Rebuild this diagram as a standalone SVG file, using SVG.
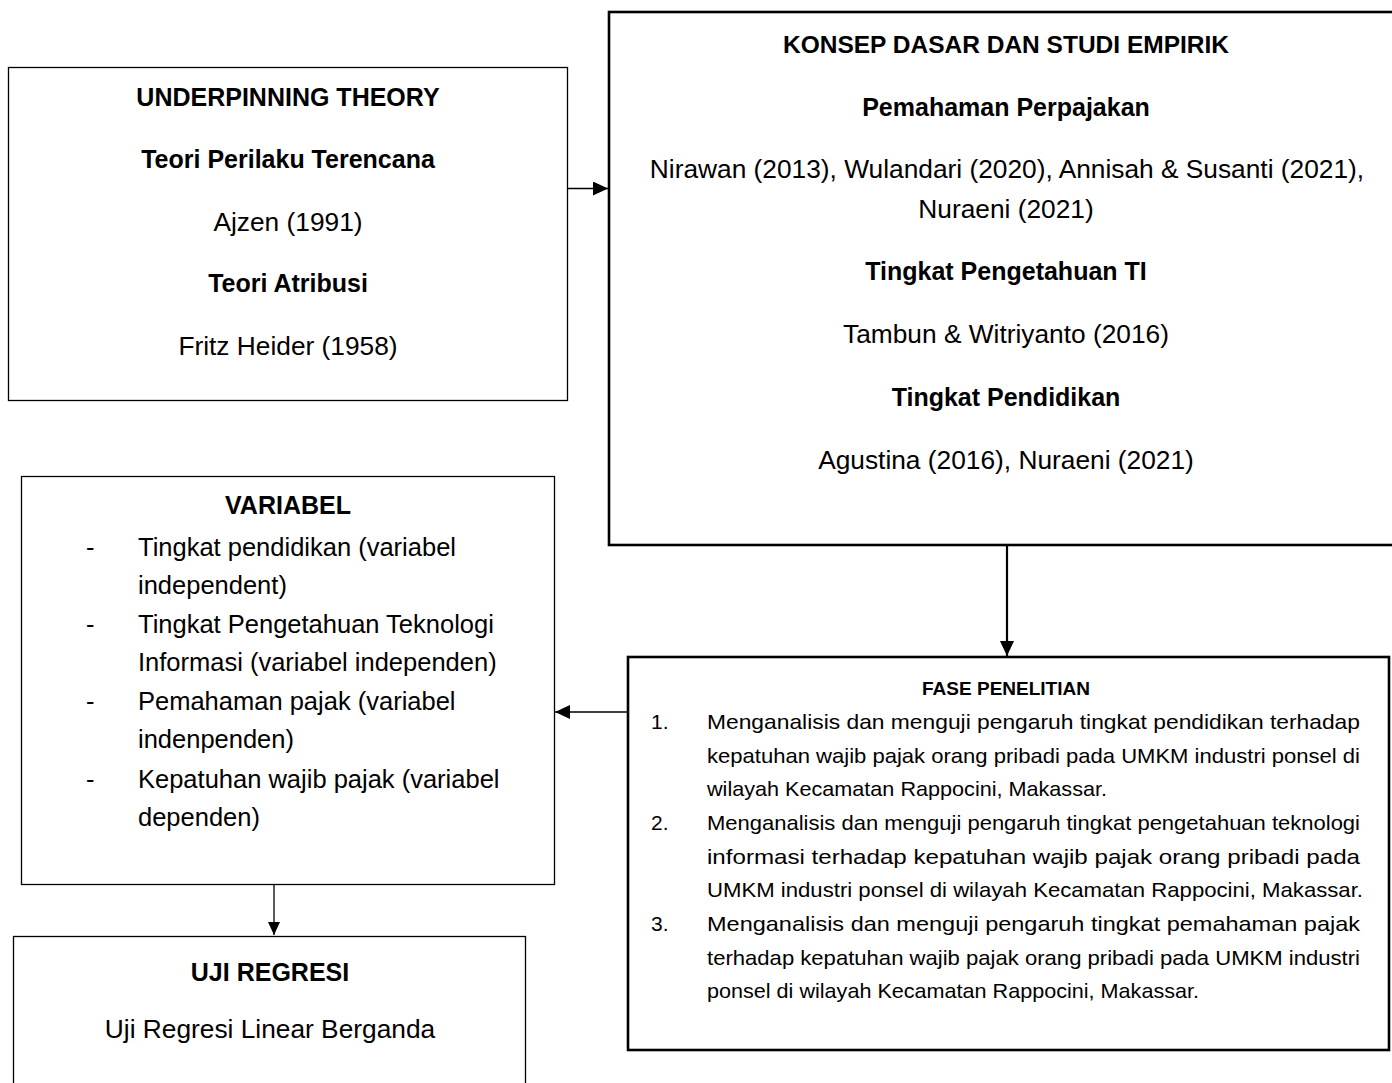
<svg xmlns="http://www.w3.org/2000/svg" width="1392" height="1083" viewBox="0 0 1392 1083">
<style>
  .box{fill:#fff;stroke:#000}
  .thin{stroke-width:1.3}
  .thick{stroke-width:2.6}
  text{font-family:"Liberation Sans",Arial,sans-serif;fill:#000}
  .b{font-weight:bold;font-size:25px}
  .r{font-size:26.3px}
  .rv{font-size:25.5px}
  .c{text-anchor:middle}
  .f{font-size:21px}
  .fb{font-size:18.5px;font-weight:bold}
  .con{stroke:#000;fill:none}
</style>
<defs>
  <marker id="ah" viewBox="0 0 15 14" refX="15" refY="7" markerWidth="15" markerHeight="14" markerUnits="userSpaceOnUse" orient="auto">
    <path d="M0,0 L15,7 L0,14 Z" fill="#000"/>
  </marker>
  <marker id="ahS" viewBox="0 0 13 12" refX="13" refY="6" markerWidth="13" markerHeight="12" markerUnits="userSpaceOnUse" orient="auto">
    <path d="M0,0 L13,6 L0,12 Z" fill="#000"/>
  </marker>
</defs>
<rect width="1392" height="1083" fill="#fff"/>

<g id="underpinning">
  <rect class="box thin" x="8.5" y="67.5" width="559" height="333"/>
  <text class="b c" x="288" y="106">UNDERPINNING THEORY</text>
  <text class="b c" x="288" y="168">Teori Perilaku Terencana</text>
  <text class="r c" x="288" y="231">Ajzen (1991)</text>
  <text class="b c" x="288" y="292">Teori Atribusi</text>
  <text class="r c" x="288" y="355">Fritz Heider (1958)</text>
</g>

<g id="konsep">
  <rect class="box thick" x="609" y="12" width="800" height="533"/>
  <text class="b c" x="1006" y="53" style="font-size:24.5px">KONSEP DASAR DAN STUDI EMPIRIK</text>
  <text class="b c" x="1006" y="116">Pemahaman Perpajakan</text>
  <text class="r c" x="1007" y="178">Nirawan (2013), Wulandari (2020), Annisah &amp; Susanti (2021),</text>
  <text class="r c" x="1006" y="218">Nuraeni (2021)</text>
  <text class="b c" x="1006" y="280">Tingkat Pengetahuan TI</text>
  <text class="r c" x="1006" y="343">Tambun &amp; Witriyanto (2016)</text>
  <text class="b c" x="1006" y="406">Tingkat Pendidikan</text>
  <text class="r c" x="1006" y="469">Agustina (2016), Nuraeni (2021)</text>
</g>

<g id="variabel">
  <rect class="box thin" x="21.5" y="476.5" width="533" height="408"/>
  <text class="b c" x="288" y="514">VARIABEL</text>
  <text class="rv" x="86" y="556">-</text>
  <text class="rv" x="138" y="556">Tingkat pendidikan (variabel</text>
  <text class="rv" x="138" y="594">independent)</text>
  <text class="rv" x="86" y="633">-</text>
  <text class="rv" x="138" y="633">Tingkat Pengetahuan Teknologi</text>
  <text class="rv" x="138" y="671">Informasi (variabel independen)</text>
  <text class="rv" x="86" y="710">-</text>
  <text class="rv" x="138" y="710">Pemahaman pajak (variabel</text>
  <text class="rv" x="138" y="748">indenpenden)</text>
  <text class="rv" x="86" y="788">-</text>
  <text class="rv" x="138" y="788">Kepatuhan wajib pajak (variabel</text>
  <text class="rv" x="138" y="826">dependen)</text>
</g>

<g id="uji">
  <rect class="box thin" x="13.5" y="936.5" width="512" height="170"/>
  <text class="b c" x="270" y="981">UJI REGRESI</text>
  <text class="r c" x="270" y="1038">Uji Regresi Linear Berganda</text>
</g>

<g id="fase">
  <rect class="box thick" x="628" y="657" width="761" height="393"/>
  <text class="fb c" x="1006" y="695" textLength="168" lengthAdjust="spacingAndGlyphs">FASE PENELITIAN</text>
  <text class="f" x="651" y="729">1.</text>
  <text class="f" x="707" y="729" textLength="653" lengthAdjust="spacingAndGlyphs">Menganalisis dan menguji pengaruh tingkat pendidikan terhadap</text>
  <text class="f" x="707" y="763" textLength="653" lengthAdjust="spacingAndGlyphs">kepatuhan wajib pajak orang pribadi pada UMKM industri ponsel di</text>
  <text class="f" x="707" y="796" textLength="400" lengthAdjust="spacingAndGlyphs">wilayah Kecamatan Rappocini, Makassar.</text>
  <text class="f" x="651" y="830">2.</text>
  <text class="f" x="707" y="830" textLength="653" lengthAdjust="spacingAndGlyphs">Menganalisis dan menguji pengaruh tingkat pengetahuan teknologi</text>
  <text class="f" x="707" y="864" textLength="653" lengthAdjust="spacingAndGlyphs">informasi terhadap kepatuhan wajib pajak orang pribadi pada</text>
  <text class="f" x="707" y="897" textLength="656" lengthAdjust="spacingAndGlyphs">UMKM industri ponsel di wilayah Kecamatan Rappocini, Makassar.</text>
  <text class="f" x="651" y="931">3.</text>
  <text class="f" x="707" y="931" textLength="653" lengthAdjust="spacingAndGlyphs">Menganalisis dan menguji pengaruh tingkat pemahaman pajak</text>
  <text class="f" x="707" y="965" textLength="653" lengthAdjust="spacingAndGlyphs">terhadap kepatuhan wajib pajak orang pribadi pada UMKM industri</text>
  <text class="f" x="707" y="998" textLength="492" lengthAdjust="spacingAndGlyphs">ponsel di wilayah Kecamatan Rappocini, Makassar.</text>
</g>

<g id="connectors">
  <line class="con" x1="567" y1="188.5" x2="608" y2="188.5" stroke-width="1.3" marker-end="url(#ah)"/>
  <line class="con" x1="1007" y1="545" x2="1007" y2="656" stroke-width="2.2" marker-end="url(#ah)"/>
  <line class="con" x1="628" y1="712" x2="555" y2="712" stroke-width="1.3" marker-end="url(#ah)"/>
  <line class="con" x1="274" y1="884" x2="274" y2="935" stroke-width="1.3" marker-end="url(#ahS)"/>
</g>
</svg>
